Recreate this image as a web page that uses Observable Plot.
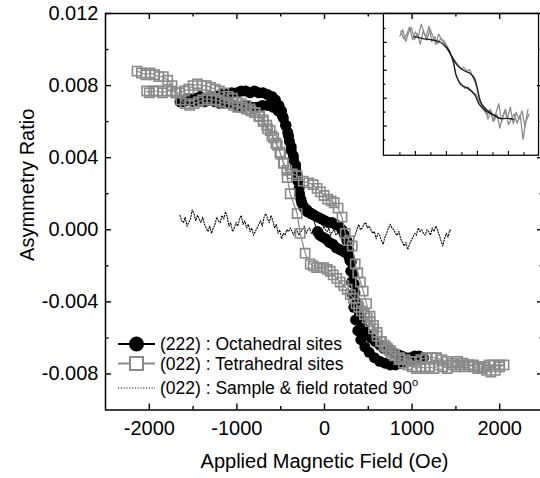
<!DOCTYPE html>
<html><head><meta charset="utf-8">
<script src="https://cdn.jsdelivr.net/npm/d3@7"></script>
<script src="https://cdn.jsdelivr.net/npm/@observablehq/plot@0.6"></script>
<style>
html,body{margin:0;padding:0;background:#fff;overflow:hidden;}
#wrap{position:relative;width:540px;height:478px;overflow:hidden;}
#inset{position:absolute;left:381px;top:11px;}
</style></head><body><div id="wrap"><div id="main"></div><div id="inset"></div></div>
<script>
// ---------- data ----------
const xTicks = [-2000, -1000, 0, 1000, 2000];
const xMinorTicks = [-1500, -500, 500, 1500];
const yTicks = [0.012, 0.008, 0.004, 0, -0.004, -0.008];
const yMinorTicks = [0.010, 0.006, 0.002, -0.002, -0.006];
const xTitle = "Applied Magnetic Field (Oe)";
const yTitle = "Asymmetry Ratio";
const legendLabels = ["(222) : Octahedral sites", "(022) : Tetrahedral sites", "(022) : Sample & field rotated 90"];

// (222) octahedral: [field (Oe), asymmetry ratio]
const octahedral = [
 [1130,-0.0071],[1080,-0.0070],[1030,-0.0070],[980,-0.0071],[930,-0.0071],[880,-0.0070],[830,-0.0069],[780,-0.0068],[730,-0.0067],[680,-0.0066],
 [630,-0.0064],[580,-0.0062],[530,-0.0060],[490,-0.0058],[450,-0.0055],[420,-0.0052],[395,-0.0048],[375,-0.0044],[360,-0.0040],[348,-0.0035],
 [338,-0.0030],[325,-0.0024],[305,-0.0018],[280,-0.0015],[250,-0.0013],[214,-0.0012],[175,-0.0011],[135,-0.0010],[95,-0.0008],[55,-0.0007],
 [15,-0.0005],[-25,-0.0004],[-55,-0.0003],[-80,-0.0001],
 [-150,0.0009],[-200,0.0011],[-240,0.0013],[-270,0.0017],[-290,0.0023],[-310,0.0030],[-330,0.0036],[-355,0.0041],[-380,0.0046],[-410,0.0052],
 [-440,0.0058],[-480,0.0063],[-530,0.0066],[-590,0.0068],[-650,0.0069],[-710,0.0069],[-770,0.0068],[-830,0.0068],[-890,0.0069],[-950,0.0068],
 [-1010,0.0069],[-1070,0.0070],[-1130,0.0071],[-1190,0.0070],[-1250,0.0071],[-1310,0.0072],[-1370,0.0071],[-1430,0.0072],[-1490,0.0071],[-1550,0.0072],
 [-1610,0.0071],[-1650,0.0071],
 [-1600,0.0072],[-1540,0.0073],[-1480,0.0073],[-1420,0.0074],[-1360,0.0073],[-1300,0.0074],[-1240,0.0074],[-1180,0.0075],[-1120,0.0075],[-1060,0.0076],
 [-1000,0.0076],[-950,0.0077],[-900,0.0077],[-850,0.0076],[-800,0.0077],[-750,0.0076],[-700,0.0076],[-650,0.0075],[-600,0.0074],[-560,0.0072],
 [-520,0.0069],[-490,0.0066],[-470,0.0062],[-445,0.0058],[-420,0.0054],[-400,0.0049],[-380,0.0044],[-355,0.0039],[-330,0.0034],[-305,0.0027],
 [-285,0.0020],[-260,0.0015],[-230,0.0012],[-195,0.0010],[-155,0.0009],[-115,0.0008],[-75,0.0007],[-35,0.0006],[5,0.0005],[45,0.0004],
 [85,0.0004],[125,0.0003],[165,0.0002],[200,0.0000],[230,-0.0003],[255,-0.0006],[275,-0.0011],[290,-0.0017],[300,-0.0023],[310,-0.0029],
 [320,-0.0036],[335,-0.0043],[355,-0.0050],[380,-0.0056],[415,-0.0061],[460,-0.0065],[510,-0.0068],[570,-0.0071],[630,-0.0073],[690,-0.0074],
 [750,-0.0075],[810,-0.0075],[870,-0.0074],[930,-0.0073],[990,-0.0072],[1050,-0.0072],[1110,-0.0071]
];

// (022) tetrahedral: [field (Oe), asymmetry ratio]
const tetrahedral = [
 [-2140,0.0088],[-2090,0.0087],[-2040,0.0086],[-1990,0.0087],[-1940,0.0086],[-1890,0.0085],[-1840,0.0085],[-1790,0.0083],[-1740,0.0080],[-1690,0.0076],
 [-1640,0.0072],[-1590,0.0070],[-1540,0.0069],[-1490,0.0070],[-1440,0.0071],[-1390,0.0072],[-1340,0.0073],[-1290,0.0072],[-1240,0.0072],[-1190,0.0071],
 [-1140,0.0070],[-1090,0.0070],[-1040,0.0069],[-990,0.0068],[-940,0.0068],[-890,0.0067],[-840,0.0066],[-790,0.0065],[-740,0.0063],[-700,0.0061],
 [-660,0.0058],[-620,0.0055],[-580,0.0051],[-540,0.0047],[-500,0.0042],[-465,0.0037],[-430,0.0033],[-370,0.0031],[-312,0.0030],[-243,0.0027],
 [-180,0.0026],[-129,0.0025],[-85,0.0023],[-45,0.0021],[-5,0.0019],[35,0.0017],[75,0.0016],[110,0.0015],[155,0.0012],[200,0.0007],
 [237,-0.0002],[280,-0.0006],[317,-0.0009],[351,-0.0019],[380,-0.0024],[410,-0.0029],[442,-0.0034],[480,-0.0041],[520,-0.0048],[560,-0.0053],
 [600,-0.0057],[650,-0.0062],[700,-0.0065],[750,-0.0067],[800,-0.0069],[860,-0.0071],[920,-0.0072],[980,-0.0073],[1040,-0.0073],[1100,-0.0072],
 [1160,-0.0071],[1220,-0.0071],[1280,-0.0071],[1340,-0.0072],[1400,-0.0073],[1460,-0.0074],[1520,-0.0073],[1580,-0.0074],[1640,-0.0075],[1700,-0.0075],
 [1760,-0.0076],[1820,-0.0076],[1880,-0.0075],[1940,-0.0075],[2000,-0.0075],[2050,-0.0075],
 [2000,-0.0076],[1950,-0.0078],[1900,-0.0079],[1850,-0.0078],[1800,-0.0077],[1750,-0.0077],[1700,-0.0076],[1650,-0.0075],[1600,-0.0076],[1550,-0.0075],
 [1500,-0.0076],[1450,-0.0075],[1400,-0.0077],[1350,-0.0076],[1300,-0.0075],[1250,-0.0077],[1200,-0.0076],[1150,-0.0077],[1100,-0.0076],[1050,-0.0077],
 [1000,-0.0076],[950,-0.0075],[900,-0.0074],[850,-0.0072],[800,-0.0070],[760,-0.0068],[720,-0.0066],[680,-0.0064],[640,-0.0062],[600,-0.0059],
 [560,-0.0055],[520,-0.0051],[488,-0.0049],[455,-0.0047],[420,-0.0045],[390,-0.0043],[360,-0.0041],[330,-0.0038],[294,-0.0036],[259,-0.0033],
 [220,-0.0031],[179,-0.0029],[140,-0.0027],[99,-0.0025],[65,-0.0023],[30,-0.0022],[-10,-0.0021],[-50,-0.0021],[-90,-0.0021],[-130,-0.0020],
 [-163,-0.0019],[-221,-0.0013],[-278,-0.0002],[-312,0.0009],[-392,0.0020],[-426,0.0029],[-470,0.0037],[-510,0.0043],[-555,0.0048],[-600,0.0052],
 [-650,0.0056],[-700,0.0060],[-750,0.0063],[-800,0.0065],[-850,0.0067],[-900,0.0069],[-950,0.0070],[-1000,0.0071],[-1050,0.0073],[-1100,0.0074],
 [-1150,0.0076],[-1200,0.0077],[-1250,0.0078],[-1300,0.0079],[-1350,0.0080],[-1400,0.0080],[-1450,0.0081],[-1500,0.0080],[-1550,0.0078],[-1600,0.0077],
 [-1650,0.0076],[-1700,0.0076],[-1750,0.0077],[-1800,0.0077],[-1850,0.0076],[-1900,0.0077],[-1950,0.0077],[-2000,0.0076],[-2030,0.0077]
];

// (022) sample & field rotated 90°: [field (Oe), asymmetry ratio]
const rotated = [
 [-1650,0.0008],[-1630,0.0005],[-1610,0.0004],[-1590,0.0007],[-1570,0.0002],[-1550,0.0004],[-1530,0.0006],[-1510,0.0011],[-1490,0.0009],[-1470,0.0005],
 [-1450,0.0008],[-1430,0.0006],[-1410,0.0004],[-1390,0.0007],[-1370,0.0003],[-1350,0.0001],[-1330,-0.0001],[-1310,0.0002],[-1290,-0.0002],[-1270,0.0001],
 [-1250,0.0003],[-1230,0.0007],[-1210,0.0005],[-1190,0.0004],[-1170,0.0008],[-1150,0.0006],[-1130,0.0010],[-1110,0.0007],[-1090,0.0002],[-1070,0.0004],
 [-1050,-0.0001],[-1030,0.0001],[-1010,0.0004],[-990,0.0002],[-970,0.0006],[-950,0.0008],[-930,0.0003],[-910,0.0005],[-890,0.0001],[-870,0.0003],
 [-850,-0.0001],[-830,0.0001],[-810,-0.0003],[-790,-0.0001],[-770,0.0001],[-750,0.0003],[-730,0.0005],[-710,0.0002],[-690,0.0007],[-670,0.0009],
 [-650,0.0006],[-630,0.0004],[-610,0.0008],[-590,0.0005],[-570,0.0001],[-550,0.0003],[-530,-0.0002],[-510,0.0000],[-490,-0.0005],[-470,-0.0002],
 [-450,-0.0003],[-430,0.0000],[-410,-0.0001],[-390,0.0001],[-370,-0.0001],[-350,-0.0003],[-330,0.0001],[-310,-0.0001],[-290,-0.0003],[-270,-0.0001],
 [-250,0.0000],[-230,0.0002],[-210,-0.0002],[-190,0.0000],[-170,0.0001],[-150,-0.0002],[-130,-0.0001],[-110,0.0001],[-90,-0.0003],[-70,-0.0001],
 [-50,0.0000],[-30,-0.0002],[-10,0.0002],[10,0.0000],[30,-0.0001],[50,0.0001],[70,-0.0003],[90,-0.0001],[110,0.0000],[130,-0.0003],
 [150,-0.0002],[170,0.0000],[190,-0.0003],[210,-0.0001],[230,0.0001],[250,-0.0001],[270,-0.0004],[290,-0.0006],[310,-0.0008],[330,-0.0005],
 [350,-0.0003],[370,0.0000],[390,0.0003],[410,0.0000],[430,0.0001],[450,0.0003],[470,0.0004],[490,0.0001],[510,0.0002],[530,0.0000],
 [550,-0.0002],[570,-0.0001],[590,-0.0005],[610,-0.0002],[630,-0.0003],[650,-0.0006],[670,-0.0008],[690,-0.0004],[710,-0.0002],[730,0.0001],
 [750,0.0003],[770,0.0001],[790,0.0000],[810,-0.0002],[830,-0.0003],[850,-0.0001],[870,-0.0005],[890,-0.0007],[910,-0.0009],[930,-0.0007],
 [950,-0.0011],[970,-0.0008],[990,-0.0006],[1010,-0.0004],[1030,-0.0002],[1050,-0.0003],[1070,0.0001],[1090,-0.0001],[1110,0.0000],[1130,-0.0002],
 [1150,-0.0003],[1170,0.0000],[1190,-0.0001],[1210,-0.0003],[1230,0.0001],[1250,-0.0001],[1270,0.0002],[1290,0.0000],[1310,-0.0003],[1330,-0.0006],
 [1350,-0.0009],[1370,-0.0005],[1390,-0.0002],[1410,-0.0004],[1430,0.0000],[1450,-0.0001]
];

// inset (arbitrary units): raw sweeps (grey) and smoothed loop (black)
const insetRawUp = [
 [-2.00,0.69],[-1.91,0.78],[-1.81,0.61],[-1.72,0.74],[-1.63,0.81],[-1.53,0.64],[-1.44,0.72],[-1.34,0.57],[-1.25,0.76],[-1.16,0.67],
 [-1.06,0.83],[-0.97,0.61],[-0.88,0.68],[-0.78,0.58],[-0.69,0.65],[-0.59,0.63],[-0.50,0.56],[-0.41,0.47],[-0.31,0.39],[-0.22,0.33],
 [-0.13,0.28],[-0.03,0.22],[0.06,0.24],[0.16,0.19],[0.25,0.21],[0.34,0.11],[0.44,0.01],[0.53,-0.14],[0.63,-0.29],[0.72,-0.38],
 [0.81,-0.44],[0.91,-0.36],[1.00,-0.53],[1.09,-0.42],[1.19,-0.28],[1.28,-0.54],[1.38,-0.38],[1.47,-0.49],[1.56,-0.33],[1.66,-0.57],
 [1.75,-0.40],[1.84,-0.50],[1.94,-0.38],[2.03,-0.61],[2.13,-0.36]
];
const insetRawDown = [
 [2.16,-0.43],[2.06,-0.54],[1.97,-0.79],[1.88,-0.44],[1.78,-0.56],[1.69,-0.43],[1.59,-0.50],[1.50,-0.58],[1.41,-0.36],[1.31,-0.47],
 [1.22,-0.63],[1.13,-0.43],[1.03,-0.53],[0.94,-0.38],[0.84,-0.50],[0.75,-0.36],[0.66,-0.32],[0.56,-0.25],[0.47,-0.15],[0.38,-0.13],
 [0.28,-0.08],[0.19,-0.04],[0.09,-0.06],[0.00,0.00],[-0.09,0.04],[-0.19,0.14],[-0.28,0.31],[-0.38,0.46],[-0.47,0.54],[-0.56,0.58],
 [-0.66,0.64],[-0.75,0.72],[-0.84,0.57],[-0.94,0.69],[-1.03,0.79],[-1.13,0.63],[-1.22,0.74],[-1.31,0.86],[-1.41,0.68],[-1.50,0.75],
 [-1.59,0.64],[-1.69,0.82],[-1.78,0.71],[-1.88,0.65],[-1.97,0.76]
];
const insetFitUp = [
 [-1.53,0.68],[-1.22,0.65],[-0.91,0.63],[-0.69,0.60],[-0.53,0.54],[-0.38,0.44],[-0.28,0.36],[-0.13,0.26],[0.09,0.19],[0.28,0.15],
 [0.41,0.08],[0.50,-0.06],[0.59,-0.24],[0.72,-0.33],[0.88,-0.40],[1.03,-0.44],[1.22,-0.49],[1.44,-0.49],[1.66,-0.50]
];
const insetFitDown = [
 [1.22,-0.49],[0.97,-0.43],[0.75,-0.38],[0.56,-0.29],[0.41,-0.15],[0.19,-0.06],[-0.03,-0.01],[-0.19,0.13],[-0.28,0.33],[-0.44,0.50],[-0.53,0.54]
];
const insetXMajor = [-1.5, -0.5, 0.5, 1.5];
const insetXMinor = [-2, -1, 0, 1, 2];
const insetYMajor = [0.6, 0.2, -0.2, -0.6];
const insetYMinor = [0.8, 0.4, 0, -0.4, -0.8];

// ---------- main chart ----------
const FONT = "'Liberation Sans', Arial, Helvetica, sans-serif";
const W = 540, H = 478, ML = 105, MT = 13, MB = 68.5, MR = -3;
const PW = W - ML - MR, PH = H - MT - MB;
const fx = d => d[0], fy = d => d[1];
const GREY = "#8a8a8a";
const DOTS = "1.1,1.7";

const main = Plot.plot({
  width: W, height: H,
  marginLeft: ML, marginRight: MR, marginTop: MT, marginBottom: MB,
  style: {fontFamily: FONT, background: "white", color: "black", overflow: "visible"},
  x: {domain: [-2500, 2500]},
  y: {domain: [-0.010, 0.012]},
  marks: [
    Plot.line(rotated, {x: fx, y: fy, stroke: "black", strokeWidth: 1.1, strokeDasharray: DOTS}),
    Plot.line(octahedral, {x: fx, y: fy, stroke: "black", strokeWidth: 1}),
    Plot.dot(octahedral, {x: fx, y: fy, r: 5.5, fill: "black"}),
    Plot.line(tetrahedral, {x: fx, y: fy, stroke: GREY, strokeWidth: 1.2}),
    Plot.dot(tetrahedral, {x: fx, y: fy, symbol: "square", r: 5.2, stroke: GREY, strokeWidth: 1.6, fill: "none"}),
    // inward ticks on all four sides
    Plot.tickX(xTicks, {x: d => d, insetTop: PH - 6, stroke: "black", strokeWidth: 1.4}),
    Plot.tickX(xTicks, {x: d => d, insetBottom: PH - 6, stroke: "black", strokeWidth: 1.4}),
    Plot.tickX(xMinorTicks, {x: d => d, insetTop: PH - 3.5, stroke: "black", strokeWidth: 1.4}),
    Plot.tickX(xMinorTicks, {x: d => d, insetBottom: PH - 3.5, stroke: "black", strokeWidth: 1.4}),
    Plot.tickY(yTicks, {y: d => d, insetRight: PW - 6, stroke: "black", strokeWidth: 1.4}),
    Plot.tickY(yTicks, {y: d => d, insetLeft: PW - 6, stroke: "black", strokeWidth: 1.4}),
    Plot.tickY(yMinorTicks, {y: d => d, insetRight: PW - 3.5, stroke: "black", strokeWidth: 1.4}),
    Plot.tickY(yMinorTicks, {y: d => d, insetLeft: PW - 3.5, stroke: "black", strokeWidth: 1.4}),
    Plot.axisX(xTicks, {tickSize: 0, tickPadding: 11, fontSize: 20, tickFormat: d => String(d), label: null}),
    Plot.axisY(yTicks, {tickSize: 0, tickPadding: 7, fontSize: 20, tickFormat: d => d.toFixed(3), label: null}),
    Plot.frame({stroke: "black", strokeWidth: 1.5}),
    Plot.text([xTitle], {text: d => d, frameAnchor: "bottom", textAnchor: "middle", lineAnchor: "top", dy: 43.5, fontSize: 20}),
    Plot.text([yTitle], {text: d => d, frameAnchor: "left", textAnchor: "middle", lineAnchor: "middle", rotate: -90, dx: -78, dy: -27, fontSize: 20})
  ]
});
document.getElementById("main").appendChild(main);

// ---------- legend (inside plot area, lower left) ----------
const lg = d3.select(main).append("g")
  .attr("font-family", FONT).attr("font-size", 17.5).attr("fill", "black")
  .attr("text-anchor", "start");
const rowsY = [344, 363.5, 388];
const x0 = 118, x1 = 155, xm = 136.5, xt = 160;
// row 1
lg.append("line").attr("x1", x0).attr("x2", x1).attr("y1", rowsY[0]).attr("y2", rowsY[0]).attr("stroke", "black").attr("stroke-width", 2);
lg.append("circle").attr("cx", xm).attr("cy", rowsY[0]).attr("r", 7.5).attr("fill", "black");
lg.append("text").attr("x", xt).attr("y", rowsY[0]).attr("dy", "0.35em").attr("text-anchor", "start").text(legendLabels[0]);
// row 2
lg.append("line").attr("x1", x0).attr("x2", x1).attr("y1", rowsY[1]).attr("y2", rowsY[1]).attr("stroke", GREY).attr("stroke-width", 2);
lg.append("rect").attr("x", xm - 6.5).attr("y", rowsY[1] - 6.5).attr("width", 13).attr("height", 13).attr("fill", "white").attr("stroke", GREY).attr("stroke-width", 2);
lg.append("text").attr("x", xt).attr("y", rowsY[1]).attr("dy", "0.35em").attr("text-anchor", "start").text(legendLabels[1]);
// row 3
lg.append("line").attr("x1", x0).attr("x2", x1).attr("y1", rowsY[2]).attr("y2", rowsY[2]).attr("stroke", "black").attr("stroke-width", 1.1).attr("stroke-dasharray", DOTS);
const t3 = lg.append("text").attr("x", xt).attr("y", rowsY[2]).attr("dy", "0.35em").attr("text-anchor", "start");
t3.append("tspan").text(legendLabels[2]);
t3.append("tspan").attr("font-size", 11).attr("dy", "-0.75em").text("o");

// ---------- inset ----------
const IW = 164, IH = 150.3;
const iPW = IW - 4, iPH = IH - 4;
const inset = Plot.plot({
  width: IW, height: IH, marginLeft: 2, marginTop: 2, marginRight: 2, marginBottom: 2,
  style: {background: "transparent", overflow: "visible"},
  x: {domain: [-2.53, 2.47], axis: null},
  y: {domain: [-1.018, 1.014], axis: null},
  marks: [
    Plot.line(insetRawUp, {x: fx, y: fy, stroke: GREY, strokeWidth: 1.3}),
    Plot.line(insetRawDown, {x: fx, y: fy, stroke: GREY, strokeWidth: 1.3}),
    Plot.line(insetFitUp, {x: fx, y: fy, stroke: "#1a1a1a", strokeWidth: 1.3, curve: "catmull-rom"}),
    Plot.line(insetFitDown, {x: fx, y: fy, stroke: "#1a1a1a", strokeWidth: 1.3, curve: "catmull-rom"}),
    Plot.tickX(insetXMajor, {x: d => d, insetTop: iPH - 4, stroke: "black", strokeWidth: 1.2}),
    Plot.tickX(insetXMinor, {x: d => d, insetTop: iPH - 2.5, stroke: "black", strokeWidth: 1.2}),
    Plot.tickY(insetYMajor, {y: d => d, insetRight: iPW - 4, stroke: "black", strokeWidth: 1.2}),
    Plot.tickY(insetYMinor, {y: d => d, insetRight: iPW - 2.5, stroke: "black", strokeWidth: 1.2}),
    Plot.frame({stroke: "black", strokeWidth: 1.3})
  ]
});
document.getElementById("inset").appendChild(inset);
</script></body></html>
